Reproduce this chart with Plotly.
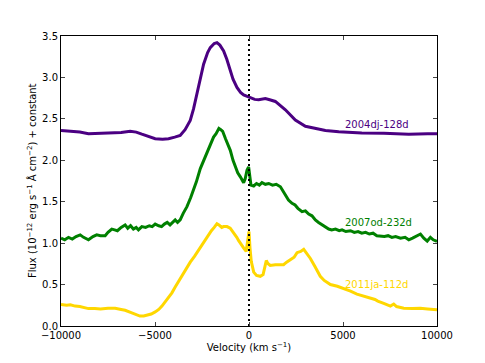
import plotly.graph_objects as go

# 2004dj-128d
v_dj = [-10000, -9500, -9000, -8540, -8000, -7600, -7300, -6800, -6320, -6000, -5700, -5300, -4990, -4600, -4280, -3950, -3660,
        -3400, -3125, -2950, -2770, -2600, -2415, -2200, -2060, -1850, -1705, -1550, -1350, -1180, -1030, -850, -640, -450, -285, -100,
        70, 300, 515, 870, 1100, 1400, 1935, 2465, 3000, 3530, 4065, 4775, 6000, 7170, 8500, 9500, 10000]
f_dj = [2.36, 2.35, 2.34, 2.32, 2.325, 2.335, 2.33, 2.335, 2.35, 2.34, 2.315, 2.28, 2.26, 2.255, 2.26, 2.28, 2.30,
        2.37, 2.48, 2.62, 2.80, 2.99, 3.16, 3.30, 3.36, 3.41, 3.42, 3.39, 3.32, 3.22, 3.11, 2.98, 2.88, 2.82, 2.79, 2.77,
        2.75, 2.735, 2.73, 2.745, 2.73, 2.71, 2.61, 2.485, 2.41, 2.385, 2.36, 2.345, 2.33, 2.325, 2.315, 2.32, 2.32]

# 2007od-232d
v_od = [-10000, -9800, -9600, -9400, -9200, -8980, -8800, -8540, -8300, -8100, -7900, -7650, -7500, -7300, -7150, -7000, -6800, -6590,
        -6450, -6300, -6150, -6000, -5880, -5700, -5500, -5300, -5150, -4990, -4800, -4650, -4500, -4350, -4200, -4050, -3925, -3800,
        -3660, -3500, -3300, -3100, -2950, -2800, -2590, -2450, -2240, -2050, -1885, -1750, -1600, -1500, -1400, -1250, -1100, -995,
        -850, -730, -600, -460, -285, -200, -107, -20, 60, 105, 250, 400, 550, 690, 870, 1050, 1250, 1450, 1670, 1800, 1935, 2100,
        2290, 2450, 2600, 2820, 3000, 3175, 3350, 3530, 3700, 3890, 4050, 4240, 4400, 4600, 4800, 4950, 5150, 5400, 5600, 5800,
        6000, 6200, 6400, 6600, 6800, 6990, 7200, 7400, 7600, 7800, 8060, 8300, 8500, 8700, 8900, 9120, 9300, 9480, 9650, 9800, 10000]
f_od = [1.06, 1.04, 1.07, 1.05, 1.08, 1.10, 1.07, 1.04, 1.08, 1.10, 1.09, 1.09, 1.13, 1.17, 1.16, 1.15, 1.19, 1.22,
        1.18, 1.21, 1.17, 1.19, 1.16, 1.20, 1.19, 1.21, 1.20, 1.23, 1.21, 1.20, 1.23, 1.25, 1.22, 1.26, 1.28, 1.25,
        1.28, 1.36, 1.44, 1.55, 1.64, 1.74, 1.90, 1.98, 2.10, 2.20, 2.28, 2.32, 2.385, 2.37, 2.35, 2.26, 2.17, 2.12,
        2.00, 1.92, 1.85, 1.80, 1.73, 1.78, 1.88, 1.92, 1.80, 1.70, 1.69, 1.72, 1.70, 1.73, 1.71, 1.72, 1.70, 1.71, 1.68, 1.63, 1.58, 1.52,
        1.48, 1.46, 1.42, 1.38, 1.39, 1.35, 1.33, 1.28, 1.25, 1.22, 1.20, 1.17, 1.16, 1.17, 1.15, 1.16, 1.14, 1.15, 1.13, 1.14,
        1.12, 1.13, 1.11, 1.12, 1.09, 1.085, 1.08, 1.09, 1.07, 1.08, 1.06, 1.07, 1.04, 1.06, 1.08, 1.11, 1.06, 1.025, 1.07, 1.04, 1.02]

# 2011ja-112d
v_ja = [-10000, -9700, -9500, -9250, -9000, -8750, -8540, -8200, -7900, -7500, -7120, -6800, -6590, -6300, -6055, -5800, -5600,
        -5400, -5200, -4990, -4800, -4630, -4450, -4280, -4100, -3925, -3650, -3390, -3125, -2900, -2700, -2400, -2240, -2000,
        -1850, -1705, -1600, -1450, -1350, -1170, -1000, -820, -650, -550, -400, -280, -150, -60, 0, 50, 120, 250, 400, 600, 750,
        850, 920, 1000, 1130, 1400, 1840, 2000, 2200, 2400, 2555, 2750, 2910, 3100, 3265, 3500, 3790, 4000, 4330, 4700, 5040,
        5400, 5740, 6100, 6450, 6700, 6850, 6985, 7200, 7520, 7700, 7850, 8230, 8700, 9110, 9500, 10000]
f_ja = [0.26, 0.25, 0.255, 0.24, 0.235, 0.225, 0.21, 0.21, 0.205, 0.215, 0.215, 0.20, 0.19, 0.165, 0.14, 0.12, 0.12,
        0.13, 0.145, 0.17, 0.20, 0.24, 0.29, 0.35, 0.40, 0.47, 0.57, 0.68, 0.77, 0.84, 0.91, 1.00, 1.07, 1.15,
        1.19, 1.235, 1.22, 1.19, 1.20, 1.20, 1.18, 1.13, 1.07, 1.03, 0.97, 0.94, 0.90, 1.05, 1.14, 0.95, 0.78, 0.65, 0.61, 0.60, 0.62,
        0.72, 0.79, 0.755, 0.73, 0.74, 0.74, 0.77, 0.80, 0.83, 0.885, 0.90, 0.925, 0.87, 0.815, 0.72, 0.60, 0.55, 0.50, 0.48, 0.455,
        0.42, 0.385, 0.36, 0.335, 0.32, 0.30, 0.29, 0.27, 0.24, 0.265, 0.235, 0.215, 0.21, 0.213, 0.205, 0.195]

labels = ["2004dj-128d", "2007od-232d", "2011ja-112d"]
label_y = [2.43, 1.25, 0.50]
colors = ["#4B0082", "#008000", "#FFD700"]

fig = go.Figure()
for v, f, c in [(v_dj, f_dj, colors[0]), (v_od, f_od, colors[1]), (v_ja, f_ja, colors[2])]:
    fig.add_trace(go.Scatter(x=v, y=f, mode="lines", line=dict(color=c, width=3), showlegend=False))

fig.add_trace(go.Scatter(x=[0, 0], y=[0, 3.5], mode="lines",
                         line=dict(color="black", width=2, dash="2px,3px"), showlegend=False))

for t, y, c in zip(labels, label_y, colors):
    fig.add_annotation(x=5000, y=y, text=t, showarrow=False, xanchor="left", yanchor="middle",
                       font=dict(color=c, size=10, family="DejaVu Sans"))

# y-axis title placed close to the tick labels, as in the reference
fig.add_annotation(xref="paper", yref="paper", x=-0.077, y=0.5, xanchor="center", yanchor="middle",
                   textangle=-90, showarrow=False,
                   text="Flux (10<sup>\u221212</sup> erg s<sup>\u22121</sup> \u00c5 cm<sup>\u22122</sup>) + constant",
                   font=dict(size=10, family="DejaVu Sans", color="black"))

fig.update_layout(
    width=485, height=363,
    margin=dict(l=61, r=48, t=36, b=37),
    plot_bgcolor="white", paper_bgcolor="white",
    font=dict(family="DejaVu Sans", size=10, color="black"),
)
fig.update_xaxes(range=[-10000, 10000], tickvals=[-10000, -5000, 0, 5000, 10000],
                 ticktext=["\u221210000", "\u22125000", "0", "5000", "10000"],
                 ticks="inside", ticklen=4, showline=True, linecolor="black", linewidth=1,
                 mirror="allticks", showgrid=False, zeroline=False,
                 title=dict(text="Velocity (km s<sup>\u22121</sup>)", font=dict(size=10), standoff=2))
fig.update_yaxes(range=[0, 3.5], tickvals=[0, 0.5, 1, 1.5, 2, 2.5, 3, 3.5],
                 ticktext=["0.0", "0.5", "1.0", "1.5", "2.0", "2.5", "3.0", "3.5"],
                 ticks="inside", ticklen=4, showline=True, linecolor="black", linewidth=1,
                 mirror="allticks", showgrid=False, zeroline=False)

fig.write_html("out.html", config={"displayModeBar": False},
               post_script="document.body.style.margin='0px';")
